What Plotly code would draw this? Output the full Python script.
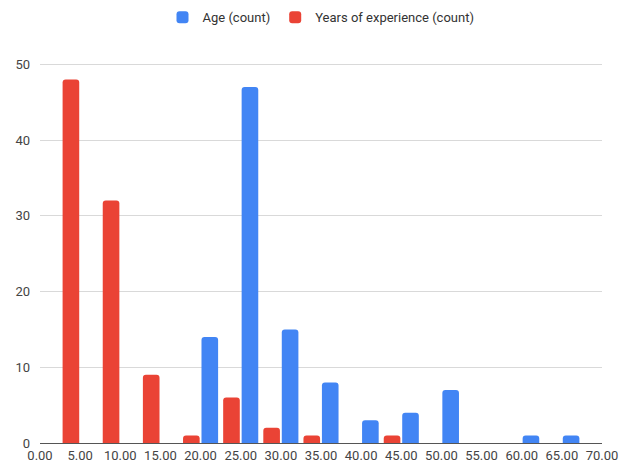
import plotly.graph_objects as go

bins = [5, 10, 15, 20, 25, 30, 35, 40, 45, 50, 55, 60, 65]
age_count = [0, 0, 0, 14, 47, 15, 8, 3, 4, 7, 0, 1, 1]
exp_count = [48, 32, 9, 1, 6, 2, 1, 0, 1, 0, 0, 0, 0]
x_ticks = [i * 5 for i in range(15)]
x_tick_labels = [f"{v:.2f}" for v in x_ticks]
y_ticks = [0, 10, 20, 30, 40, 50]

font = "Liberation Sans Narrow, Arial Narrow, Roboto, sans-serif"

fig = go.Figure()
fig.add_trace(go.Bar(x=bins, y=exp_count, name="Years of experience (count)",
                     marker=dict(color="#EA4335", line=dict(width=0))))
fig.add_trace(go.Bar(x=bins, y=age_count, name="Age (count)",
                     marker=dict(color="#4285F4", line=dict(width=0))))

fig.update_layout(
    width=630, height=476,
    margin=dict(l=40, r=22, t=62, b=33),
    paper_bgcolor="white", plot_bgcolor="white",
    barmode="group", bargap=0.08, bargroupgap=0.1,
    barcornerradius=3,
    font=dict(family=font, size=13, color="#444"),
    showlegend=True,
    legend=dict(orientation="h", x=0.5, xanchor="center", y=0.995, yanchor="top",
                yref="container", traceorder="reversed",
                font=dict(family=font, size=13, color="#333")),
    xaxis=dict(range=[0, 70], tickvals=x_ticks, ticktext=x_tick_labels,
               showgrid=False, showline=True, linecolor="#555", linewidth=1,
               ticks="", zeroline=False, tickfont=dict(size=13, color="#444")),
    yaxis=dict(range=[0, 50.3], tickvals=y_ticks, showgrid=True, gridcolor="#d9d9d9",
               zeroline=False, ticks="", tickfont=dict(size=13, color="#444"),
               ticklabelstandoff=9),
)
fig.write_html("out.html")
